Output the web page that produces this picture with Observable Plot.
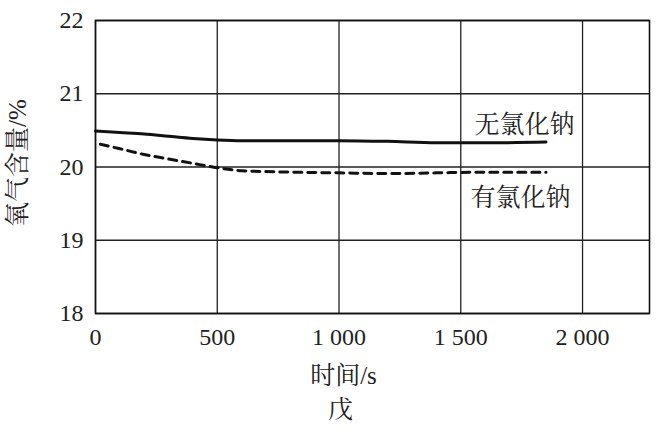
<!DOCTYPE html>
<html>
<head>
<meta charset="utf-8">
<script src="https://cdn.jsdelivr.net/npm/d3@7"></script>
<script src="https://cdn.jsdelivr.net/npm/@observablehq/plot@0.6"></script>
<style>
  body { margin: 0; background: #fff; }
</style>
</head>
<body>
<div id="chart"></div>
<script>
// Data
const timeNo = [0, 100, 200, 300, 400, 500, 600, 800, 1000, 1200, 1400, 1600, 1850];
const noNaCl = [20.49, 20.47, 20.45, 20.42, 20.39, 20.37, 20.36, 20.36, 20.36, 20.35, 20.33, 20.33, 20.34];
const timeWith = [20, 100, 200, 300, 400, 500, 600, 800, 1000, 1200, 1400, 1600, 1850];
const withNaCl = [20.31, 20.25, 20.17, 20.11, 20.05, 19.99, 19.95, 19.93, 19.92, 19.91, 19.92, 19.93, 19.93];
const xTicks = [0, 500, 1000, 1500, 2000];
const yTicks = [18, 19, 20, 21, 22];
const seriesNames = ["无氯化钠", "有氯化钠"];
const xLabel = "时间/s";
const yLabel = "氧气含量/%";
const caption = "戊";

const dataNo = timeNo.map((t, i) => ({t, v: noNaCl[i]}));
const dataWith = timeWith.map((t, i) => ({t, v: withNaCl[i]}));
const fmtX = d => d >= 1000 ? d3.format(",")(d).replace(",", " ") : String(d);
const fmtY = d => String(d);
const ff = "Liberation Serif, Noto Serif CJK SC, Noto Sans CJK SC, serif";

const chart = Plot.plot({
  width: 661,
  height: 431,
  marginLeft: 95,
  marginRight: 12,
  marginTop: 20,
  marginBottom: 118,
  style: {fontSize: "24px", color: "#222", background: "#fff", fontFamily: ff},
  x: {domain: [0, 2275]},
  y: {domain: [18, 22]},
  marks: [
    Plot.gridX(xTicks, {stroke: "#222", strokeOpacity: 1, strokeWidth: 1.3}),
    Plot.gridY(yTicks, {stroke: "#222", strokeOpacity: 1, strokeWidth: 1.3}),
    Plot.frame({stroke: "#111", strokeWidth: 1.6}),
    Plot.axisX({ticks: xTicks, tickSize: 0, tickPadding: 14, tickFormat: fmtX, label: null, fontSize: 24, fontFamily: ff}),
    Plot.axisY({ticks: yTicks, tickSize: 0, tickPadding: 12, tickFormat: fmtY, label: null, fontSize: 24, fontFamily: ff}),
    Plot.line(dataNo, {x: "t", y: "v", stroke: "#111", strokeWidth: 3, curve: "monotone-x"}),
    Plot.line(dataWith, {x: "t", y: "v", stroke: "#111", strokeWidth: 3, strokeDasharray: "8,6", curve: "monotone-x"}),
    Plot.text([seriesNames[0]], {x: 1762, y: 20.57, fontSize: 25, fill: "#222", fontFamily: ff}),
    Plot.text([seriesNames[1]], {x: 1745, y: 19.58, fontSize: 25, fill: "#222", fontFamily: ff}),
    Plot.text([yLabel], {frameAnchor: "left", textAnchor: "middle", dx: -78, dy: -4, rotate: -90, fontSize: 25, fill: "#222", fontFamily: ff}),
    Plot.text([xLabel], {frameAnchor: "bottom", textAnchor: "middle", dx: -29, dy: 70, fontSize: 25, fill: "#222", fontFamily: ff}),
    Plot.text([caption], {frameAnchor: "bottom", textAnchor: "middle", dx: -32, dy: 104, fontSize: 25, fill: "#222", fontFamily: ff})
  ]
});
document.getElementById("chart").appendChild(chart);
</script>
</body>
</html>
